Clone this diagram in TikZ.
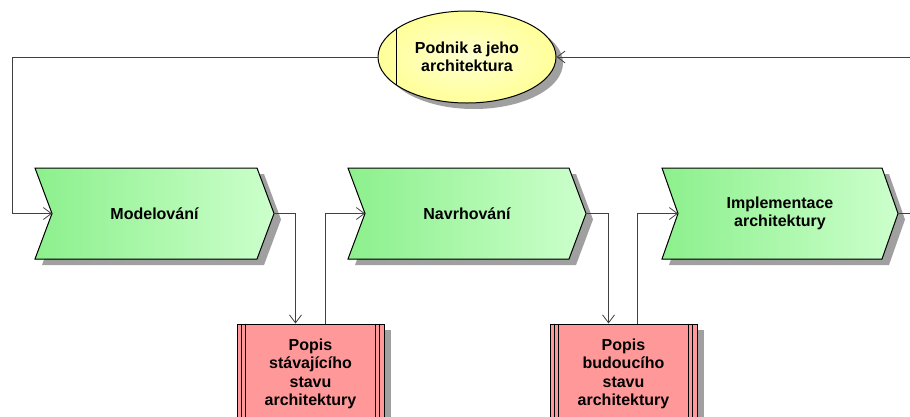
\documentclass[tikz,border=0pt]{standalone}
\usepackage{fontspec}
\setmainfont{Liberation Sans}
\usetikzlibrary{%
  arrows.meta,% Straight Barb
  shapes.geometric,% ellipse
  shadows% drop shadow
}
\definecolor{chevL}{HTML}{8CF08C}
\definecolor{chevR}{HTML}{CCFFCC}
\definecolor{docpink}{HTML}{FF9999}
\definecolor{yelIn}{HTML}{FFFFD0}
\definecolor{yelOut}{HTML}{FFFF99}
\definecolor{shadowgray}{HTML}{A0A0A0}

\begin{document}
\begin{tikzpicture}[x=1pt,y=-1pt,
  txt/.style={font=\bfseries\fontsize{16}{18.5}\selectfont,align=center,inner sep=0pt},
  shade/.style={drop shadow={shadow xshift=7pt,shadow yshift=-6pt,fill=shadowgray,opacity=1}},
  chev/.style={draw=black,line width=1pt,left color=chevL,right color=chevR,shade},
  docbox/.style={txt,rectangle,draw=black,line width=1pt,fill=docpink,
    minimum width=147pt,minimum height=100pt,shade},
  flow/.style={draw=black!75,line width=0.8pt,-{Straight Barb[length=8pt,width=12pt]}}]
 \useasboundingbox (0,0) rectangle (910,416);
 \clip (0,0) rectangle (910,416);

   %Ereignis oben
   \node[txt,ellipse,draw=black,line width=1pt,inner color=yelIn,outer color=yelOut,
     minimum width=178pt,minimum height=92pt,shade] (podnik) at (467,57)
     {Podnik a jeho\\architektura};
   \draw[line width=1pt] (podnik.center) ++(-71,-28) -- ++(0,56);

   %Funktionen
   \filldraw[chev] (35,168) -- (257,168) -- (274,213.5) -- (257,259) -- (35,259) -- (52,213.5) -- cycle;
   \coordinate (mod-in) at (52,213.5);
   \coordinate (mod-out) at (274,213.5);
   \node[txt] (mod) at (154.5,213.5) {Modelování};

   \filldraw[chev] (348,168) -- (569,168) -- (586,213.5) -- (569,259) -- (348,259) -- (365,213.5) -- cycle;
   \coordinate (nav-in) at (365,213.5);
   \coordinate (nav-out) at (586,213.5);
   \node[txt] (nav) at (467,213.5) {Navrhování};

   \filldraw[chev] (662,168) -- (882,168) -- (898,213.5) -- (882,259) -- (662,259) -- (678,213.5) -- cycle;
   \coordinate (impl-in) at (678,213.5);
   \coordinate (impl-out) at (898,213.5);
   \node[txt] (impl) at (780,213.5) {Implementace\\architektury};

   %Dokumente
   \node[docbox] (popis1) at (310.5,374) {Popis\\stávajícího\\stavu\\architektury};
   \node[docbox] (popis2) at (623.5,374) {Popis\\budoucího\\stavu\\architektury};
   \foreach \d in {popis1,popis2}{
     \draw[line width=1pt] ([xshift=5pt]\d.north west) -- ([xshift=5pt]\d.south west);
     \draw[line width=1pt] ([xshift=9pt]\d.north west) -- ([xshift=9pt]\d.south west);
     \draw[line width=1pt] ([xshift=-5pt]\d.north east) -- ([xshift=-5pt]\d.south east);
     \draw[line width=1pt] ([xshift=-9pt]\d.north east) -- ([xshift=-9pt]\d.south east);
   }

   %Verbindungen
   \coordinate (loopL) at (12,213.5);
   \coordinate (loopR) at (925,213.5);
   \draw[flow] (podnik.west) -| (loopL) -- (mod-in);
   \draw[flow] (mod-out) -| ([xshift=-15pt]popis1.north);
   \draw[flow] ([xshift=15pt]popis1.north) |- (nav-in);
   \draw[flow] (nav-out) -| ([xshift=-15pt]popis2.north);
   \draw[flow] ([xshift=14pt]popis2.north) |- (impl-in);
   \draw[flow] (impl-out) -- (loopR) |- (podnik.east);
\end{tikzpicture}
\end{document}
